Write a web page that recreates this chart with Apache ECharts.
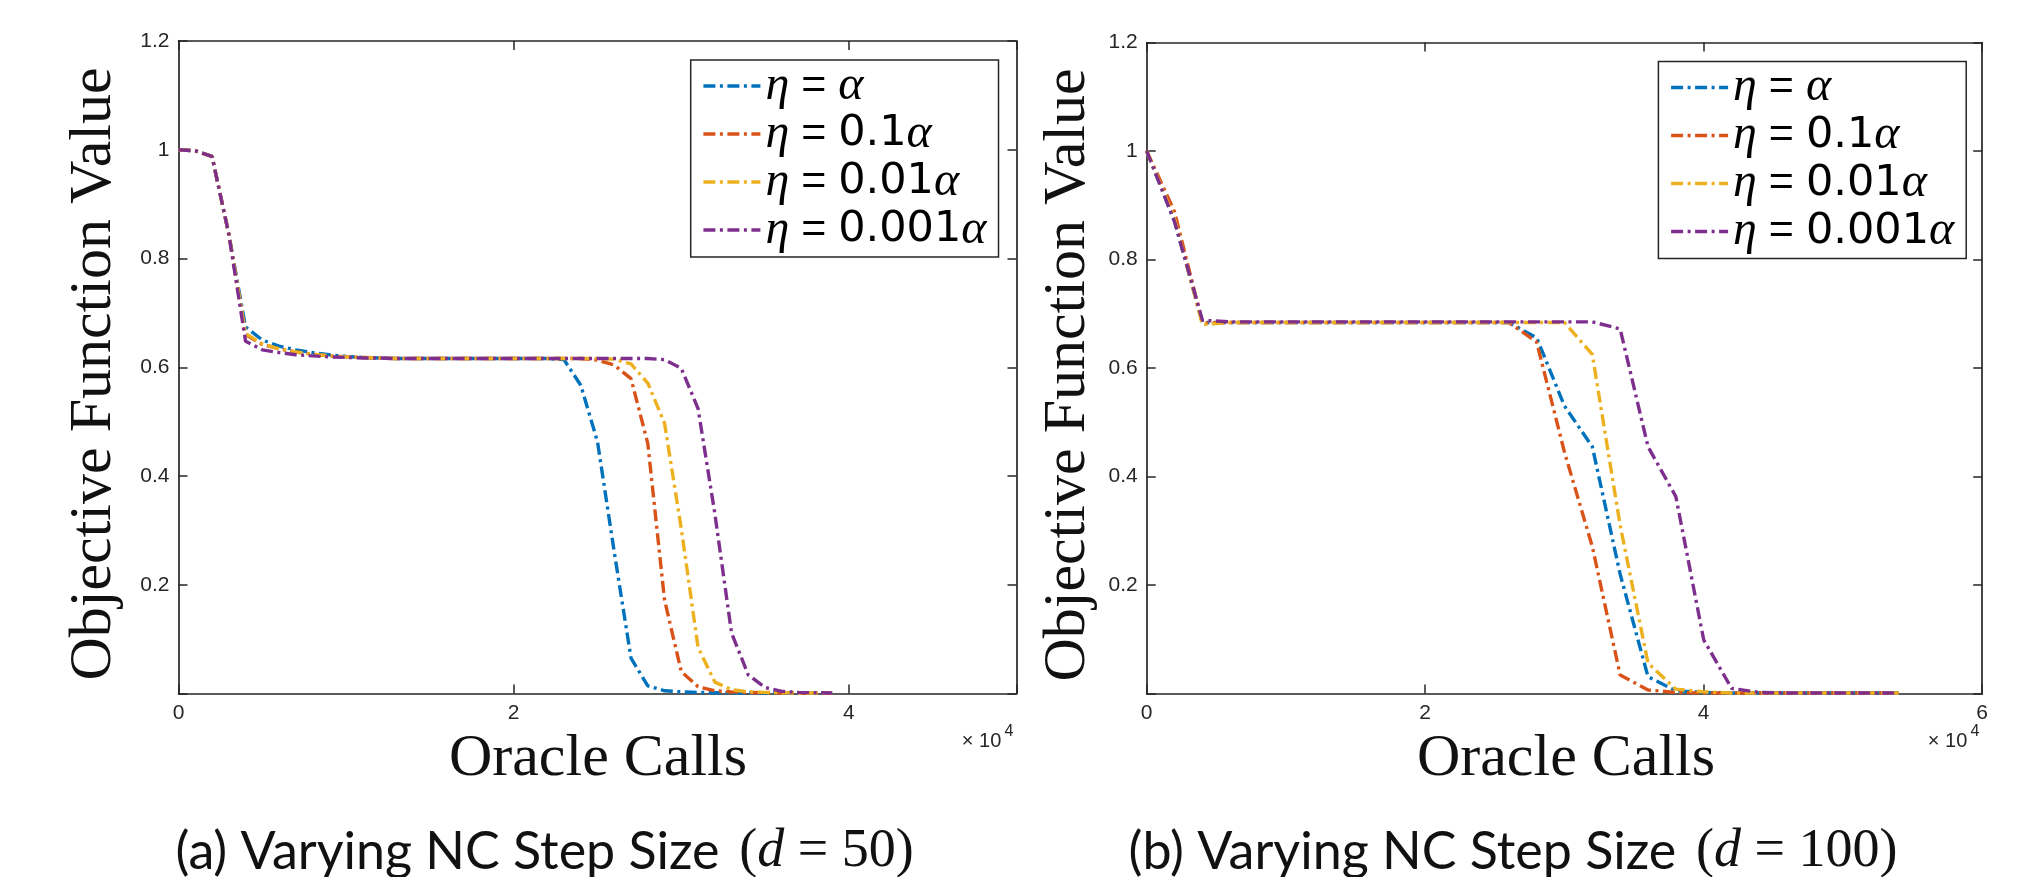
<!DOCTYPE html>
<html><head><meta charset="utf-8">
<script src="https://cdn.jsdelivr.net/npm/echarts@6/dist/echarts.min.js"></script>
<style>html,body{margin:0;padding:0;background:#fff}#c{width:2036px;height:877px}</style>
</head><body><div id="c"></div><script>
// ---------- data ----------
const seriesNames = ['η = α', 'η = 0.1α', 'η = 0.01α', 'η = 0.001α'];
const legendCoef = ['', '0.1', '0.01', '0.001'];
const colors = ['#0072BD', '#D95319', '#EDB120', '#7E2F8E'];

// Panel (a): d = 50
const xA = [0,1000,2000,3000,4000,5000,6000,7000,8000,9000,10000,11000,12000,13000,14000,15000,16000,17000,18000,19000,20000,21000,22000,23000,24000,25000,26000,27000,28000,29000,30000,31000,32000,33000,34000,35000,36000,37000,38000,39000];
const blueA = [1.000,0.998,0.988,0.845,0.674,0.650,0.639,0.632,0.627,0.623,0.620,0.618,0.617,0.616,0.616,0.616,0.616,0.616,0.616,0.616,0.616,0.616,0.616,0.614,0.567,0.463,0.260,0.065,0.014,0.005,0.003,0.002,0.0015,0.001,0.001,0.001,0.0008,0.0008,0.0007,0.0007];
const redA = [1.000,0.998,0.988,0.845,0.660,0.642,0.634,0.628,0.624,0.621,0.619,0.618,0.617,0.616,0.616,0.616,0.616,0.616,0.616,0.616,0.616,0.616,0.616,0.616,0.616,0.613,0.604,0.579,0.460,0.172,0.040,0.0125,0.005,0.003,0.002,0.0015,0.001,0.001,0.001,0.0008];
const yellowA = [1.000,0.998,0.988,0.845,0.662,0.643,0.634,0.628,0.624,0.621,0.619,0.618,0.617,0.616,0.616,0.616,0.616,0.616,0.616,0.616,0.616,0.616,0.616,0.616,0.616,0.616,0.615,0.606,0.571,0.497,0.303,0.085,0.021,0.007,0.003,0.002,0.0015,0.001,0.001,0.001];
const purpleA = [1.000,0.998,0.988,0.845,0.648,0.632,0.627,0.623,0.621,0.619,0.618,0.617,0.617,0.616,0.616,0.616,0.616,0.616,0.616,0.616,0.616,0.616,0.616,0.616,0.616,0.616,0.616,0.616,0.616,0.614,0.598,0.524,0.331,0.111,0.034,0.011,0.004,0.002,0.0015,0.001];

// Panel (b): d = 100
const xB = [0,2000,4000,6000,8000,10000,12000,14000,16000,18000,20000,22000,24000,26000,28000,30000,32000,34000,36000,38000,40000,42000,44000,46000,48000,50000,52000,54000];
const blueB = [1.000,0.870,0.684,0.684,0.684,0.684,0.684,0.684,0.684,0.684,0.684,0.684,0.684,0.684,0.656,0.530,0.455,0.220,0.031,0.005,0.002,0.001,0.001,0.001,0.001,0.001,0.001,0.001];
const redB = [1.000,0.888,0.683,0.684,0.684,0.684,0.684,0.684,0.684,0.684,0.684,0.684,0.684,0.684,0.648,0.445,0.271,0.034,0.0065,0.002,0.001,0.001,0.001,0.001,0.001,0.001,0.001,0.001];
const yellowB = [1.000,0.875,0.680,0.684,0.684,0.684,0.684,0.684,0.684,0.684,0.684,0.684,0.684,0.684,0.684,0.684,0.625,0.310,0.056,0.008,0.003,0.001,0.001,0.001,0.001,0.001,0.001,0.001];
const purpleB = [1.000,0.870,0.688,0.685,0.685,0.685,0.685,0.685,0.685,0.685,0.685,0.685,0.685,0.685,0.685,0.685,0.685,0.672,0.455,0.363,0.099,0.0095,0.002,0.001,0.001,0.001,0.001,0.001];

const xMaxA = 50000, xMaxB = 60000, xStep = 20000;
const yMin = 0, yMax = 1.2, yStep = 0.2;
const xTitle = 'Oracle Calls';
const yTitle = 'Objective Function Value';
const captionA = ['(a) Varying NC Step Size', '50'];
const captionB = ['(b) Varying NC Step Size', '100'];

// ---------- chart ----------
const AX = '#262626';
const zip = (xs, ys) => xs.map((x, i) => [x, ys[i]]);
const grids = [
  { left: 178.5, top: 41, width: 838, height: 652.5 },
  { left: 1146.7, top: 42.5, width: 835.5, height: 651 }
];
function xAxes(gi, max) {
  const base = {
    type: 'value', gridIndex: gi, min: 0, max: max, interval: xStep,
    axisLine: { show: true, onZero: false, lineStyle: { color: AX, width: 1.7 } },
    axisTick: { show: true, inside: true, length: 9, lineStyle: { color: AX, width: 1.5 } },
    splitLine: { show: false }
  };
  return [
    Object.assign({}, base, { position: 'bottom',
      axisLabel: { color: AX, fontSize: 21, fontFamily: 'Liberation Sans', margin: 9,
        formatter: v => (v % xStep === 0 ? String(v / 10000) : '') } }),
    Object.assign({}, base, { position: 'top', axisLabel: { show: false } })
  ];
}
function yAxes(gi) {
  const base = {
    type: 'value', gridIndex: gi, min: yMin, max: yMax, interval: yStep,
    axisLine: { show: true, onZero: false, lineStyle: { color: AX, width: 1.7 } },
    axisTick: { show: true, inside: true, length: 9, lineStyle: { color: AX, width: 1.5 } },
    splitLine: { show: false }
  };
  return [
    Object.assign({}, base, { position: 'left',
      axisLabel: { color: AX, fontSize: 21, fontFamily: 'Liberation Sans', margin: 9,
        formatter: v => (Math.abs(v) < 1e-9 ? '' : String(parseFloat(v.toFixed(1)))) } }),
    Object.assign({}, base, { position: 'right', axisLabel: { show: false } })
  ];
}
const lineStyleBase = { width: 3.4, type: [12, 4.5, 3, 4.5], cap: 'butt' };
function mkSeries(xs, ys, idx, gi) {
  return {
    type: 'line', name: seriesNames[idx], xAxisIndex: gi * 2, yAxisIndex: gi * 2,
    data: zip(xs, ys), showSymbol: false, symbol: 'none', smooth: false,
    color: colors[idx], lineStyle: Object.assign({ color: colors[idx] }, lineStyleBase),
    z: 2 + idx, animation: false
  };
}
function legendCfg(left, top) {
  return {
    data: seriesNames, orient: 'vertical', left: left, top: top,
    itemWidth: 57, itemHeight: 20, itemGap: 0,
    padding: [2, 12, 3, 11],
    backgroundColor: '#fff', borderColor: AX, borderWidth: 1.5, borderRadius: 0,
    selectedMode: false,
    itemStyle: { opacity: 0, borderWidth: 0, color: 'rgba(0,0,0,0)' },
    lineStyle: { width: 3.4, type: [12, 4.5, 3, 4.5] },
    formatter: name => {
      const i = seriesNames.indexOf(name);
      return '{e|η}{q| = }' + (legendCoef[i] ? '{n|' + legendCoef[i] + '}' : '') + '{e|α}';
    },
    textStyle: { lineHeight: 46, rich: {
      e: { fontFamily: 'Liberation Serif', fontStyle: 'italic', fontSize: 48, color: '#000', lineHeight: 46 },
      q: { fontFamily: 'Liberation Sans', fontSize: 43, color: '#000', lineHeight: 46 },
      n: { fontFamily: 'DejaVu Sans', fontSize: 43, color: '#000', lineHeight: 46 }
    } }
  };
}
function txt(x, y, text, font, opts) {
  return Object.assign({ type: 'text', x: x, y: y, silent: true,
    style: Object.assign({ text: text, font: font, fill: '#111', textAlign: 'center', textVerticalAlign: 'middle', align: 'center', verticalAlign: 'middle' }, (opts && opts.style) || {}) },
    (opts && opts.el) || {});
}
function caption(x, parts) {
  return { type: 'text', x: x, y: 852, silent: true, style: {
    text: '{s|' + parts[0] + ' \u2009}{m|(}{i|d}{m| = ' + parts[1] + ')}',
    textAlign: 'left', align: 'left', textVerticalAlign: 'middle', verticalAlign: 'middle',
    rich: {
      s: { fontFamily: 'Lato', fontSize: 52, fill: '#111', color: '#111' },
      m: { fontFamily: 'Liberation Serif', fontSize: 54, fill: '#111', color: '#111' },
      i: { fontFamily: 'Liberation Serif', fontStyle: 'italic', fontSize: 54, fill: '#111', color: '#111' }
    } } };
}
function times10(xRight) {
  return [
    txt(xRight - 12, 741, '× 10', '20px "Liberation Sans"', { style: { fill: AX, textAlign: 'right', align: 'right' } }),
    txt(xRight, 732, '4', '16px "Liberation Sans"', { style: { fill: AX, textAlign: 'right', align: 'right' } })
  ];
}
const option = {
  animation: false,
  backgroundColor: '#fff',
  grid: grids,
  xAxis: xAxes(0, xMaxA).concat(xAxes(1, xMaxB)),
  yAxis: yAxes(0).concat(yAxes(1)),
  legend: [legendCfg(690.7, 60), legendCfg(1658.4, 61.5)],
  series: [
    mkSeries(xA, blueA, 0, 0), mkSeries(xA, redA, 1, 0), mkSeries(xA, yellowA, 2, 0), mkSeries(xA, purpleA, 3, 0),
    mkSeries(xB, blueB, 0, 1), mkSeries(xB, redB, 1, 1), mkSeries(xB, yellowB, 2, 1), mkSeries(xB, purpleB, 3, 1)
  ],
  graphic: [
    txt(94.5, 374, yTitle, '60px "Liberation Serif"', { el: { rotation: Math.PI / 2 } }),
    txt(1068, 375, yTitle, '60px "Liberation Serif"', { el: { rotation: Math.PI / 2 } }),
    txt(598, 759, xTitle, '60px "Liberation Serif"'),
    txt(1566, 759, xTitle, '60px "Liberation Serif"'),
    caption(175.5, captionA),
    caption(1128.5, captionB)
  ].concat(times10(1013.3)).concat(times10(1979.3))
};
const chart = echarts.init(document.getElementById('c'), null, { renderer: 'canvas' });
chart.setOption(option);
</script></body></html>
